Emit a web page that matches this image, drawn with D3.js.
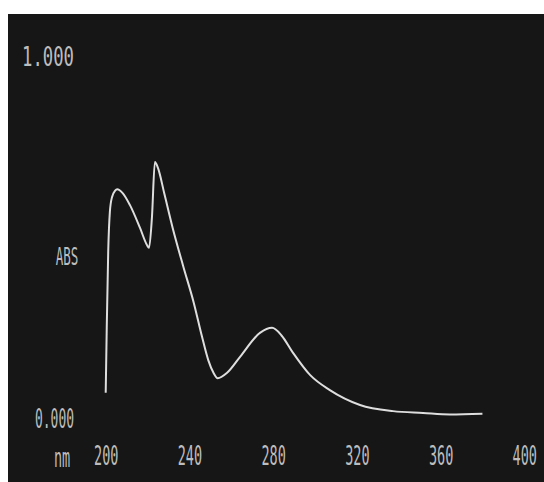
<!DOCTYPE html>
<html>
<head>
<meta charset="utf-8">
<script src="https://cdn.jsdelivr.net/npm/d3@7"></script>
<style>
  body { margin: 0; background: #fff; }
  svg { display: block; }
  .lbl { font-family: "DejaVu Sans Mono", monospace; fill: #bdbdbd; }
</style>
</head>
<body>
<svg id="chart" width="544" height="482"></svg>
<script>
// spectrum: wavelength (nm) and absorbance
var wavelength = [200, 200.5, 201.2, 202, 203, 204.5, 205.5, 208, 211.6, 216.4, 219.7, 220.7,
                  222.1, 223.5, 225, 228, 232, 237, 242, 246, 249, 251.5, 253.5, 258, 264.2,
                  273.7, 279.5, 284, 289.5, 297.6, 307.1, 321.5, 337.3, 351.6, 364.5, 380];
var absorbance = [0.07, 0.25, 0.46, 0.57, 0.61, 0.628, 0.632, 0.622, 0.588, 0.525, 0.478, 0.47,
                  0.555, 0.707, 0.69, 0.62, 0.525, 0.42, 0.32, 0.225, 0.16, 0.125, 0.11, 0.125,
                  0.169, 0.235, 0.249, 0.228, 0.18, 0.119, 0.077, 0.036, 0.019, 0.014, 0.01, 0.012];
var xTicks = [200, 240, 280, 320, 360, 400];
var yTicks = [0, 1];

var svg = d3.select("#chart");

svg.append("rect")
    .attr("x", 8).attr("y", 14)
    .attr("width", 536).attr("height", 468)
    .attr("fill", "#161616");

var x = d3.scaleLinear().domain([200, 400]).range([105.7, 524.3]);
var y = d3.scaleLinear().domain([0, 1]).range([418, 56]);

// x tick labels
var xAxis = svg.append("g")
    .attr("class", "x axis")
    .attr("transform", "translate(0,456)")
    .call(d3.axisBottom(x).tickValues(xTicks).tickSize(0).tickPadding(0).tickFormat(d3.format("d")));
xAxis.select(".domain").remove();
xAxis.selectAll("text")
    .attr("class", "lbl")
    .attr("y", 0)
    .attr("dy", "0.35em")
    .attr("font-size", 27)
    .attr("transform", "scale(0.5,1)");

// y tick labels
var yAxis = svg.append("g")
    .attr("class", "y axis")
    .attr("transform", "translate(74,0)")
    .call(d3.axisLeft(y).tickValues(yTicks).tickSize(0).tickPadding(0).tickFormat(d3.format(".3f")));
yAxis.select(".domain").remove();
yAxis.selectAll("text")
    .attr("class", "lbl")
    .attr("dy", "0.35em")
    .attr("font-size", 27)
    .attr("transform", function(d) { return d === 1 ? "scale(0.64,1)" : "scale(0.48,1)"; });

svg.append("text")
    .attr("class", "lbl")
    .attr("text-anchor", "middle")
    .attr("dy", "0.35em")
    .attr("font-size", 25)
    .attr("transform", "translate(67,256) scale(0.5,1)")
    .text("ABS");

svg.append("text")
    .attr("class", "lbl")
    .attr("text-anchor", "middle")
    .attr("dy", "0.35em")
    .attr("font-size", 27)
    .attr("transform", "translate(62,458) scale(0.5,1)")
    .text("nm");

var line = d3.line()
    .x(function(d, i) { return x(wavelength[i]); })
    .y(function(d) { return y(d); })
    .curve(d3.curveMonotoneX);

svg.append("path")
    .datum(absorbance)
    .attr("fill", "none")
    .attr("stroke", "#dedede")
    .attr("stroke-width", 2)
    .attr("d", line);
</script>
</body>
</html>
